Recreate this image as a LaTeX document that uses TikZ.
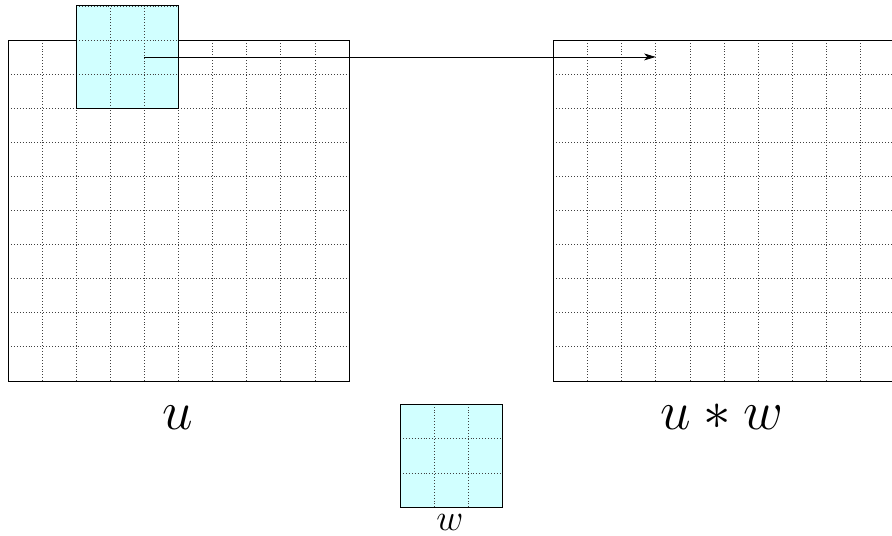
\documentclass[tikz,border=0pt]{standalone}
\usetikzlibrary{positioning,arrows.meta}
\definecolor{KernelCyan}{RGB}{209,255,255}
\tikzset{
  flow/.style={-{Stealth[length=3.4mm,width=2mm,inset=0.9mm]},semithick,draw=black},
  cellgrid/.style={draw=black!75,dotted,line width=0.45pt},
  border/.style={draw=black,line width=0.5pt},
  kernelfill/.style={fill=KernelCyan},
  biglabel/.style={font=\Huge,scale=1.84,anchor=base,inner sep=0pt},
  smalllabel/.style={font=\Huge,scale=1.25,anchor=base,inner sep=0pt}
}
\begin{document}
\begin{tikzpicture}[x=1cm,y=1cm]
  \useasboundingbox (-0.235,-4.55) rectangle (25.93,11.17);
  % input image u
  \draw[cellgrid] (0,0) grid (10,10);
  \draw[border] (0,0) rectangle (10,10);
  % output image u*w
  \draw[cellgrid] (16,0) grid (26,10);
  \draw[border] (16,0) rectangle (26,10);
  % kernel placed on u
  \fill[kernelfill] (2,8) rectangle (5,11);
  \draw[cellgrid] (2,8) grid (5,11);
  \draw[border] (2,8) rectangle (5,11);
  \coordinate (src) at (4,9.5);
  \coordinate (dst) at (19,9.5);
  \draw[flow] (src) -- (dst);
  % kernel w alone
  \begin{scope}[shift={(11.5,-3.7)}]
    \fill[kernelfill] (0,0) rectangle (3,3);
    \draw[cellgrid] (0,0) grid (3,3);
    \draw[border] (0,0) rectangle (3,3);
  \end{scope}
  % labels
  \node[biglabel] (ulabel) at (4.99,-1.44) {$u$};
  \node[biglabel] (uwlabel) at (20.94,-1.44) {$u*w$};
  \node[smalllabel] (wlabel) at (12.96,-4.40) {$w$};
\end{tikzpicture}
\end{document}
